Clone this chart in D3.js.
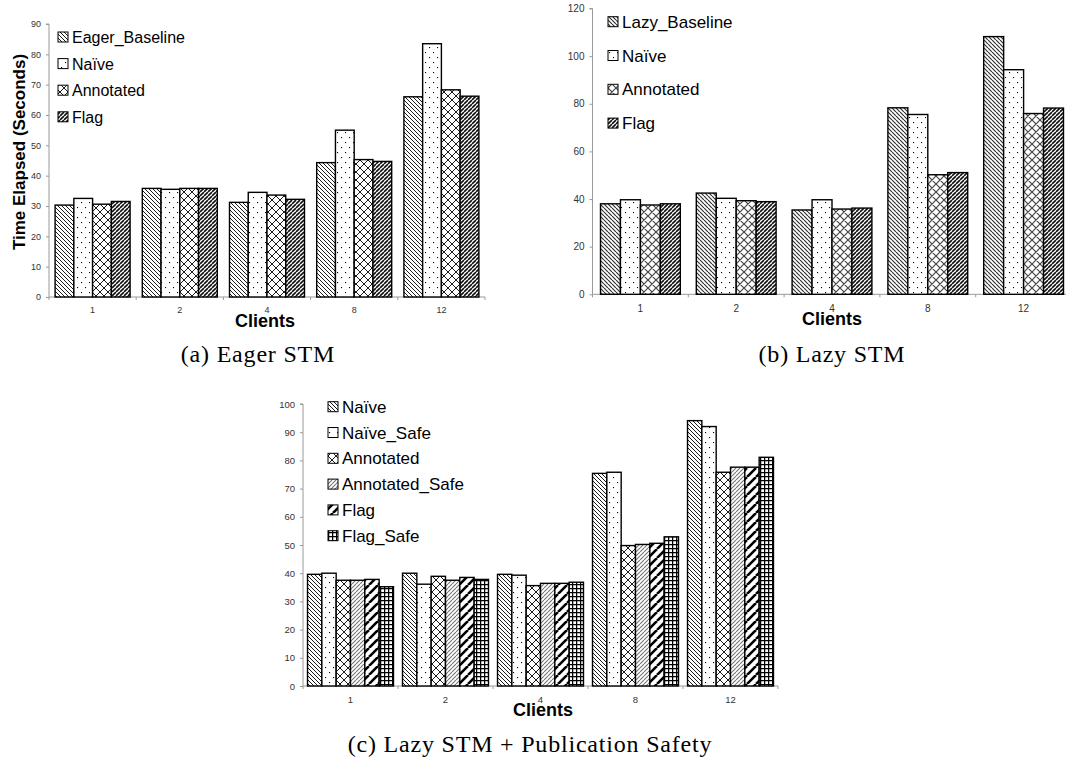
<!DOCTYPE html>
<html><head><meta charset="utf-8">
<script src="https://cdn.jsdelivr.net/npm/d3@7"></script>
<style>
html,body{margin:0;padding:0;background:#fff;}
svg{display:block;}
text{font-family:"Liberation Sans",Arial,sans-serif;}
.cap{font-family:"Liberation Serif","Times New Roman",serif;}
</style></head>
<body><svg id="c" width="1066" height="763"></svg>
<script>
// ---------- data ----------
const clients = ["1", "2", "4", "8", "12"];

// (a) Eager STM
const eagerSeries = ["Eager_Baseline", "Naïve", "Annotated", "Flag"];
const eagerBaseline  = [30.3, 35.8, 31.2, 44.3, 66.0];
const eagerNaive     = [32.5, 35.5, 34.5, 55.0, 83.5];
const eagerAnnotated = [30.6, 35.8, 33.6, 45.3, 68.3];
const eagerFlag      = [31.5, 35.8, 32.2, 44.7, 66.2];
const eagerTicks = [0, 10, 20, 30, 40, 50, 60, 70, 80, 90];

// (b) Lazy STM
const lazySeries = ["Lazy_Baseline", "Naïve", "Annotated", "Flag"];
const lazyBaseline  = [38.0, 42.5, 35.4, 78.3, 108.2];
const lazyNaive     = [39.7, 40.3, 39.7, 75.5, 94.3];
const lazyAnnotated = [37.5, 39.3, 35.8, 50.2, 75.9];
const lazyFlag      = [38.0, 38.9, 36.2, 51.1, 78.2];
const lazyTicks = [0, 20, 40, 60, 80, 100, 120];

// (c) Lazy STM + Publication Safety
const pubSeries = ["Naïve", "Naïve_Safe", "Annotated", "Annotated_Safe", "Flag", "Flag_Safe"];
const pubNaive          = [39.6, 40.0, 39.6, 75.4, 94.1];
const pubNaiveSafe      = [40.0, 36.1, 39.3, 75.8, 92.0];
const pubAnnotated      = [37.5, 38.9, 35.6, 49.8, 75.8];
const pubAnnotatedSafe  = [37.5, 37.5, 36.4, 50.2, 77.6];
const pubFlag           = [37.8, 38.5, 36.4, 50.6, 77.6];
const pubFlagSafe       = [35.2, 37.8, 36.8, 52.9, 81.1];
const pubTicks = [0, 10, 20, 30, 40, 50, 60, 70, 80, 90, 100];

// ---------- patterns ----------
const svg = d3.select("#c");
const defs = svg.append("defs");
function diag(id, s, dir, stroke, sw) {
  const p = defs.append("pattern").attr("id", id).attr("patternUnits", "userSpaceOnUse")
    .attr("width", s).attr("height", s);
  p.append("rect").attr("width", s).attr("height", s).attr("fill", "#fff");
  let d = "";
  for (const k of [-1, 0, 1]) {
    d += dir === "up" ? `M${k*s},${s}L${k*s+s},0` : `M${k*s},0L${k*s+s},${s}`;
  }
  p.append("path").attr("d", d).attr("stroke", stroke).attr("stroke-width", sw).attr("fill", "none");
}
function cross(id, s, stroke, sw) {
  const p = defs.append("pattern").attr("id", id).attr("patternUnits", "userSpaceOnUse")
    .attr("width", s).attr("height", s);
  p.append("rect").attr("width", s).attr("height", s).attr("fill", "#fff");
  let d = "";
  for (const k of [-1, 0, 1]) d += `M${k*s},${s}L${k*s+s},0M${k*s},0L${k*s+s},${s}`;
  p.append("path").attr("d", d).attr("stroke", stroke).attr("stroke-width", sw).attr("fill", "none");
}
function dots(id) {
  const p = defs.append("pattern").attr("id", id).attr("patternUnits", "userSpaceOnUse")
    .attr("width", 8).attr("height", 10);
  p.append("rect").attr("width", 8).attr("height", 10).attr("fill", "#fff");
  p.append("rect").attr("x", 1).attr("y", 2).attr("width", 1.1).attr("height", 1.1).attr("fill", "#000");
  p.append("rect").attr("x", 5).attr("y", 7).attr("width", 1.1).attr("height", 1.1).attr("fill", "#000");
}
function grid(id, s) {
  const p = defs.append("pattern").attr("id", id).attr("patternUnits", "userSpaceOnUse")
    .attr("width", s).attr("height", s);
  p.append("rect").attr("width", s).attr("height", s).attr("fill", "#fff");
  p.append("path").attr("d", `M0,0.6H${s}M0.6,0V${s}`).attr("stroke", "#000").attr("stroke-width", 1.3);
}
diag("pDown", 4, "down", "#000", 0.9);
diag("pDownGray", 4, "down", "#333", 1.2);
dots("pDots");
cross("pCross", 8, "#000", 0.9);
cross("pCrossGray", 8, "#444", 1.2);
diag("pUpDark", 4, "up", "#111", 1.6);
diag("pUpLight", 4, "up", "#777", 1.1);
diag("pUpWide", 9, "up", "#000", 2.6);
grid("pGrid", 4);

// ---------- chart builder ----------
function drawChart(cfg) {
  const g = svg.append("g");
  const y = d3.scaleLinear().domain([0, cfg.ymax]).range([cfg.y0, cfg.y1]);
  const x0 = d3.scaleBand().domain(clients).range([cfg.x0, cfg.x1]).paddingInner(cfg.pad).paddingOuter(cfg.pad / 2);
  const x1 = d3.scaleBand().domain(cfg.series).range([0, x0.bandwidth()]);

  // axes
  const ya = d3.axisLeft(y).tickValues(cfg.ticks).tickSize(3).tickPadding(5).tickFormat(d3.format("d"));
  const yg = g.append("g").attr("transform", `translate(${cfg.x0},0)`).call(ya);
  yg.select(".domain").attr("stroke", "#9a9a9a").attr("d", `M-3,${cfg.y1}H0V${cfg.y0}`);
  yg.selectAll(".tick line").attr("stroke", "#9a9a9a");
  yg.selectAll(".tick text").attr("font-size", cfg.tickFont).attr("fill", "#333")
    .attr("font-family", "'Liberation Sans',Arial,sans-serif");

  const xa = g.append("g");
  xa.append("line").attr("x1", cfg.x0).attr("x2", cfg.x1).attr("y1", cfg.y0).attr("y2", cfg.y0)
    .attr("stroke", "#9a9a9a");
  const step = x0.step();
  xa.selectAll("line.tk").data(d3.range(clients.length + 1)).enter().append("line")
    .attr("x1", i => cfg.x0 + i * step).attr("x2", i => cfg.x0 + i * step)
    .attr("y1", cfg.y0).attr("y2", cfg.y0 + 3).attr("stroke", "#9a9a9a");
  xa.selectAll("text").data(clients).enter().append("text")
    .attr("x", d => x0(d) + x0.bandwidth() / 2).attr("y", cfg.xLabelY)
    .attr("text-anchor", "middle").attr("font-size", cfg.tickFont).attr("fill", "#333").text(d => d);

  // bars
  cfg.series.forEach((s, si) => {
    g.append("g").selectAll("rect").data(cfg.values[si]).enter().append("rect")
      .attr("x", (v, i) => x0(clients[i]) + x1(s))
      .attr("y", v => y(v))
      .attr("width", x1.bandwidth())
      .attr("height", v => cfg.y0 - y(v))
      .attr("fill", `url(#${cfg.patterns[si]})`)
      .attr("stroke", "#000").attr("stroke-width", 1.4);
  });

  // legend
  cfg.series.forEach((s, si) => {
    const cy = cfg.legY + si * cfg.legStep;
    g.append("rect").attr("x", cfg.legX).attr("y", cy - 5).attr("width", 10).attr("height", 10)
      .attr("fill", `url(#${cfg.patterns[si]})`).attr("stroke", "#000").attr("stroke-width", 1);
    g.append("text").attr("x", cfg.legX + 14).attr("y", cy + 6).attr("font-size", cfg.legFont)
      .attr("fill", "#000").text(s);
  });

  // x title
  g.append("text").attr("x", cfg.titleX).attr("y", cfg.titleY).attr("text-anchor", "middle")
    .attr("font-size", 18).attr("font-weight", "bold").text("Clients");

  // caption
  g.append("text").attr("class", "cap").attr("x", cfg.capX).attr("y", cfg.capY)
    .attr("text-anchor", "middle").attr("font-size", 24).attr("letter-spacing", 0.8)
    .text(cfg.caption);
}

drawChart({
  series: eagerSeries, values: [eagerBaseline, eagerNaive, eagerAnnotated, eagerFlag],
  patterns: ["pDown", "pDots", "pCross", "pUpDark"],
  ymax: 90, ticks: eagerTicks, y0: 297, y1: 24, x0: 49, x1: 485, pad: 0.14,
  tickFont: 9, xLabelY: 313, legX: 58, legY: 37, legStep: 26.6, legFont: 16,
  titleX: 265, titleY: 327, capX: 258, capY: 362, caption: "(a)  Eager STM"
});
drawChart({
  series: lazySeries, values: [lazyBaseline, lazyNaive, lazyAnnotated, lazyFlag],
  patterns: ["pDownGray", "pDots", "pCrossGray", "pUpDark"],
  ymax: 120, ticks: lazyTicks, y0: 294.3, y1: 8.5, x0: 592.5, x1: 1071.5, pad: 0.167,
  tickFont: 10, xLabelY: 312, legX: 608, legY: 21.7, legStep: 33.8, legFont: 17,
  titleX: 832, titleY: 325, capX: 832, capY: 362, caption: "(b)  Lazy STM"
});
drawChart({
  series: pubSeries, values: [pubNaive, pubNaiveSafe, pubAnnotated, pubAnnotatedSafe, pubFlag, pubFlagSafe],
  patterns: ["pDown", "pDots", "pCross", "pUpLight", "pUpWide", "pGrid"],
  ymax: 100, ticks: pubTicks, y0: 686, y1: 404, x0: 303, x1: 778, pad: 0.095,
  tickFont: 9.5, xLabelY: 703, legX: 328, legY: 406.7, legStep: 25.8, legFont: 17,
  titleX: 543, titleY: 716, capX: 530, capY: 752, caption: "(c)  Lazy STM + Publication Safety"
});

// y-axis title of (a)
svg.append("text").attr("transform", "translate(25,152) rotate(-90)").attr("text-anchor", "middle")
  .attr("font-size", 17).attr("font-weight", "bold").text("Time Elapsed (Seconds)");
</script></body></html>
